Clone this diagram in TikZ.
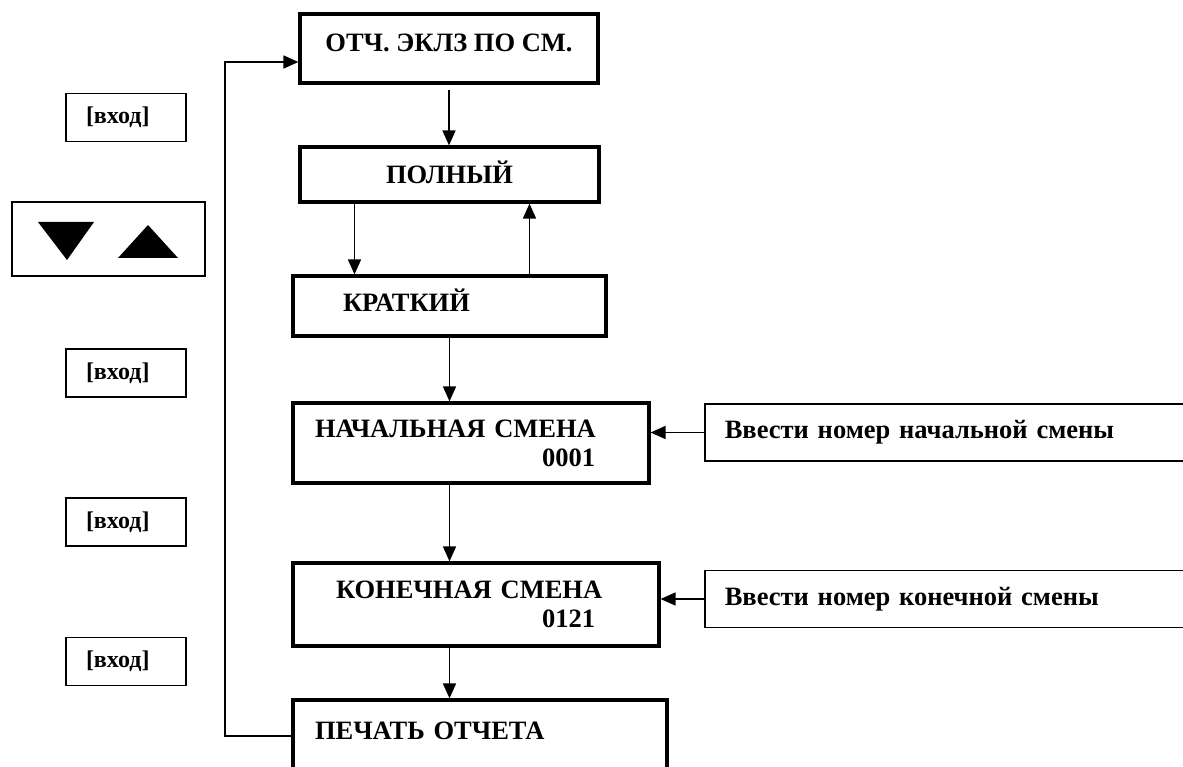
\documentclass[tikz,border=0pt]{standalone}
\usepackage{fontspec}
\setmainfont{Liberation Serif}
\usepackage{tikz}
\usetikzlibrary{arrows.meta,positioning,calc}

\begin{document}
\begin{tikzpicture}[
    x=1pt, y=-1pt,
    menubox/.style={rectangle, draw, line width=3.2pt, inner sep=0pt, font=\bfseries\fontsize{26.5}{29}\selectfont},
    hintbox/.style={rectangle, draw, line width=1.6pt, anchor=west, inner xsep=20pt, text width=480pt, minimum height=57pt, align=left, font=\bfseries\fontsize{26.5}{29}\selectfont},
    keybox/.style={rectangle, draw, line width=1.6pt, minimum width=120pt, minimum height=48pt, inner xsep=20pt, text width=80pt, align=left, font=\bfseries\fontsize{24}{28}\selectfont},
    arrow/.style={-{Triangle[length=15pt, width=13pt]}, line width=1.7pt}
]
\useasboundingbox (0,0) rectangle (1183,767);
\clip (0,0) rectangle (1183,767);

% Menu chain
\node[menubox, minimum width=298pt, minimum height=69pt, text height=18pt, text depth=11pt] (otch) at (449,48.5) {ОТЧ. ЭКЛЗ ПО СМ.};
\node[menubox, minimum width=299pt, minimum height=55pt, text height=18pt] (poln) at (449.5,174.5) {ПОЛНЫЙ};
\node[menubox, minimum width=313pt, minimum height=60pt, text height=18pt, text depth=6pt, inner xsep=50pt, text width=213pt, align=left] (krat) at (449.5,306) {КРАТКИЙ};
\node[menubox, minimum width=356pt, minimum height=80pt, inner xsep=22pt, text width=312pt, align=left] (nach) at (471,443) {НАЧАЛЬНАЯ СМЕНА\\\hspace*{227pt}0001};
\node[menubox, minimum width=366pt, minimum height=83pt, inner xsep=43pt, text width=280pt, align=left] (kon) at (476,604.5) {КОНЕЧНАЯ СМЕНА\\\hspace*{206pt}0121};
\node[menubox, minimum width=374pt, minimum height=72pt, text height=18pt, text depth=12pt, inner xsep=22pt, text width=330pt, align=left] (pech) at (480,736) {ПЕЧАТЬ ОТЧЕТА};

% Hints
\node[hintbox] (vvnach) at (704,432.5) {Ввести номер начальной смены};
\node[hintbox] (vvkon) at (704,599) {Ввести номер конечной смены};

% Keys
\node[keybox] (vhod1) at (126,117.5) {[вход]};
\node[keybox, minimum width=193pt, minimum height=74pt] (navkeys) at (108.5,239) {};
\fill (38,222) -- (94,222) -- (67,260) -- cycle;
\fill (118,258) -- (178,258) -- (148,225) -- cycle;
\node[keybox] (vhod2) at (126,373) {[вход]};
\node[keybox] (vhod3) at (126,522) {[вход]};
\node[keybox] (vhod4) at (126,661.5) {[вход]};

% Arrows
\draw[arrow, shorten <=5pt] (otch.south) -- (otch.south |- poln.north);
\draw[arrow] ([xshift=-95pt]poln.south) -- ([xshift=-95pt]krat.north);
\draw[arrow] ([xshift=80pt]krat.north) -- ([xshift=80pt]poln.south);
\draw[arrow] (krat.south) -- (krat.south |- nach.north);
\draw[arrow] (nach.south -| krat.south) -- (kon.north -| krat.south);
\draw[arrow] (kon.south -| krat.south) -- (pech.north -| krat.south);
\draw[arrow] (vvnach.west) -- (vvnach.west -| nach.east);
\draw[arrow] (vvkon.west) -- (vvkon.west -| kon.east);

% Loop back
\coordinate (loopin) at (225,62);
\draw[arrow] (pech.west) -| (loopin) -- (loopin -| otch.west);

\end{tikzpicture}
\end{document}
